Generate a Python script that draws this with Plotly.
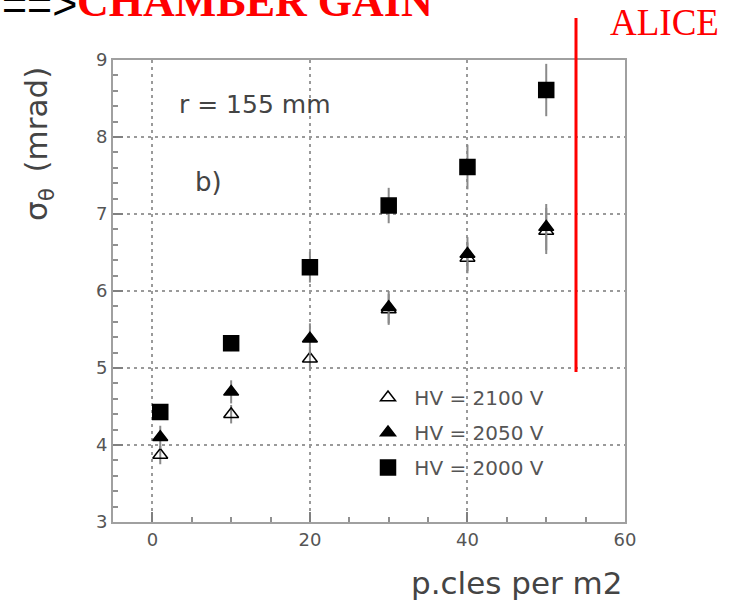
import plotly.graph_objects as go

# ---- data ----
particles = [1, 10, 20, 30, 40, 50]
sigma_2100 = [3.87, 4.40, 5.12, 5.76, 6.43, 6.78]
err_2100 = [0.12, 0.12, 0.15, 0.2, 0.2, 0.3]
sigma_2050 = [4.10, 4.69, 5.38, 5.79, 6.48, 6.83]
err_2050 = [0.15, 0.15, 0.2, 0.21, 0.22, 0.3]
sigma_2000 = [4.43, 5.32, 6.31, 7.11, 7.61, 8.61]
err_2000 = [0.1, 0.1, 0.2, 0.23, 0.29, 0.34]
series_names = [" HV = 2100 V", " HV = 2050 V", " HV = 2000 V"]
x_ticks = [0, 20, 40, 60]
y_ticks = [3, 4, 5, 6, 7, 8, 9]

W, H = 729, 600
L, R, T, B = 113, 625, 60, 522


def px(xp):
    return (xp - L) / (R - L)


def py(yp):
    return (B - yp) / (B - T)


FONT = "DejaVu Sans"
TXT = "#444444"
ERRC = "#8a8a8a"

fig = go.Figure()

specs = [
    (sigma_2100, err_2100, "triangle-up-open", 13, series_names[0]),
    (sigma_2050, err_2050, "triangle-up", 13, series_names[1]),
    (sigma_2000, err_2000, "square", 15, series_names[2]),
]
for i, (ys, es, sym, sz, nm) in enumerate(specs):
    fig.add_trace(go.Scatter(
        x=particles, y=ys, mode="markers", name=nm,
        legendgroup=f"g{i}",
        marker=dict(symbol=sym, size=sz, color="black",
                    line=dict(color="black", width=1.5)),
        error_y=dict(type="data", array=es, color=ERRC, thickness=2, width=0),
    ))

axis_common = dict(
    showline=True, linecolor="#a0a0a0", linewidth=2, mirror=True,
    ticks="inside", tickcolor="#808080", tickwidth=2, ticklen=10,
    showgrid=True, gridcolor="#9a9a9a", gridwidth=2, griddash="3px,4px",
    zeroline=False,
    tickfont=dict(family=FONT, size=18, color="#555555"),
)

fig.update_xaxes(
    range=[-5, 60], tickvals=x_ticks, ticktext=[str(v) for v in x_ticks],
    minor=dict(dtick=5, tick0=0, ticks="inside", ticklen=5,
               tickcolor="#909090", showgrid=False),
    **axis_common,
)
fig.update_yaxes(
    range=[3, 9], tickvals=y_ticks, ticktext=[str(v) for v in y_ticks],
    minor=dict(dtick=0.2, tick0=3, ticks="inside", ticklen=5,
               tickcolor="#909090", showgrid=False),
    **axis_common,
)

ann = []
ann.append(dict(text="==>", x=px(0), y=py(4), xref="paper", yref="paper",
                xanchor="left", yanchor="middle", showarrow=False,
                font=dict(family="Liberation Sans", size=43, color="black")))
ann.append(dict(text="<b>CHAMBER GAIN</b>", x=px(75), y=py(2), xref="paper",
                yref="paper", xanchor="left", yanchor="middle", showarrow=False,
                font=dict(family="Liberation Serif", size=44, color="#ff0000")))
ann.append(dict(text="ALICE", x=px(608), y=py(22.5), xref="paper", yref="paper",
                xanchor="left", yanchor="middle", showarrow=False,
                font=dict(family="Liberation Serif", size=37, color="#ff0000")))
ann.append(dict(text="r = 155 mm", x=px(177), y=py(105), xref="paper",
                yref="paper", xanchor="left", yanchor="middle", showarrow=False,
                font=dict(family=FONT, size=25, color=TXT)))
ann.append(dict(text="b)", x=px(193), y=py(182), xref="paper", yref="paper",
                xanchor="left", yanchor="middle", showarrow=False,
                font=dict(family=FONT, size=26, color=TXT)))
ann.append(dict(text="p.cles per m2", x=1.0, y=py(583), xref="paper",
                yref="paper", xanchor="right", yanchor="middle", showarrow=False,
                font=dict(family=FONT, size=31, color=TXT)))
ann.append(dict(text="σ<sub>θ</sub>\u2002(mrad)", x=px(39), y=py(144),
                xref="paper", yref="paper", xanchor="center", yanchor="middle",
                textangle=-90, showarrow=False,
                font=dict(family=FONT, size=31, color=TXT)))

fig.update_layout(
    width=W, height=H,
    margin=dict(l=L, r=W - R, t=T, b=H - B, pad=0),
    paper_bgcolor="white", plot_bgcolor="white",
    showlegend=True,
    legend=dict(x=px(368), y=py(378), xanchor="left", yanchor="top",
                bgcolor="rgba(0,0,0,0)", traceorder="grouped",
                tracegroupgap=6,
                font=dict(family=FONT, size=20, color="#555555")),
    annotations=ann,
    shapes=[dict(type="line", xref="paper", yref="paper",
                 x0=px(576), x1=px(576), y0=py(18), y1=py(372),
                 line=dict(color="#ff0000", width=3))],
)

fig.write_html("out.html")
